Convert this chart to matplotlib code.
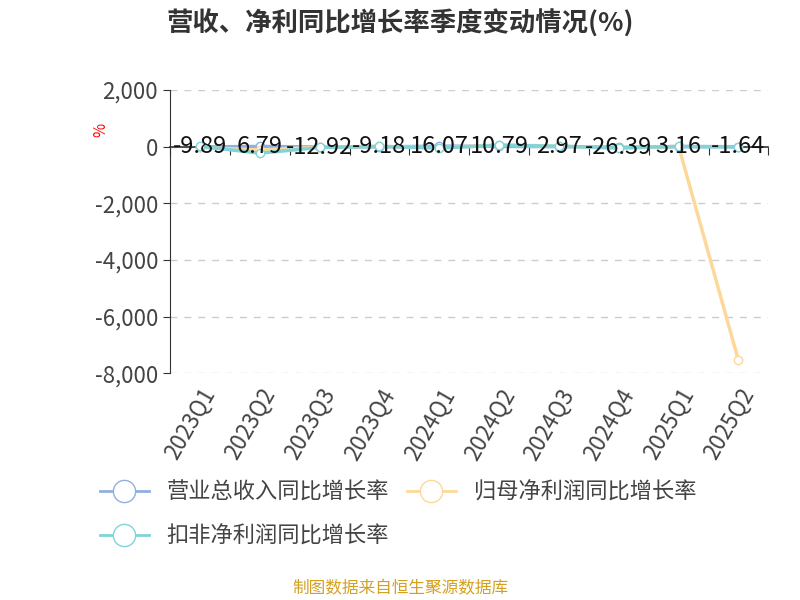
import matplotlib
matplotlib.use("Agg")
import matplotlib.pyplot as plt
from matplotlib.lines import Line2D

plt.rcParams['font.family'] = ['Noto Sans CJK SC', 'DejaVu Sans']

quarters = ["2023Q1","2023Q2","2023Q3","2023Q4","2024Q1","2024Q2","2024Q3","2024Q4","2025Q1","2025Q2"]
revenue = [-9.89, 6.79, -12.92, -9.18, 16.07, 10.79, 2.97, -26.39, 3.16, -1.64]
netprofit = [-30, -120, -20, 10, -40, 60, 20, -60, 10, -7550]
deducted = [10, -230, -30, 10, -50, 50, 15, -40, 5, -10]

fig = plt.figure(figsize=(8, 6), dpi=100)
ax = fig.add_axes([0.2125, 0.378, 0.748, 0.472])
x = list(range(len(quarters)))
c_rev, c_net, c_ded = "#8fb0e0", "#fdd89a", "#80d4d8"
ax.plot(x, revenue, color=c_rev, lw=2.5, marker='o', ms=6, mfc='white', mec=c_rev, zorder=3)
ax.plot(x, netprofit, color=c_net, lw=2.5, marker='o', ms=6, mfc='white', mec=c_net, zorder=3)
ax.plot(x, deducted, color=c_ded, lw=2.5, marker='o', ms=6, mfc='white', mec=c_ded, zorder=4)
for xi, v in zip(x, revenue):
    ax.text(xi, v, f"{v:.2f}", ha='center', va='center', fontsize=17, color='#111111', zorder=5)

ax.set_xlim(-0.5, 9.5)
ax.set_ylim(-8000, 2000)
ax.set_yticks([2000, 0, -2000, -4000, -6000, -8000])
ax.set_yticklabels(["2,000", "0", "-2,000", "-4,000", "-6,000", "-8,000"], fontsize=16, color='#444444')
ax.spines['bottom'].set_position(('data', 0))
ax.spines['bottom'].set_color('#333333')
ax.spines['bottom'].set_linewidth(1.2)
ax.set_xticks([i - 0.5 for i in range(11)])
ax.set_xticklabels([])
ax.tick_params(axis='x', length=6, color='#333333')
ax.tick_params(axis='y', length=5, color='#333333')
ax.grid(axis='y', linestyle=(0, (5, 5)), color='#cccccc', lw=1)
for s in ['top', 'right']:
    ax.spines[s].set_visible(False)
ax.spines['left'].set_color('#333333')
ax.text(-0.13, 0.86, "%", transform=ax.transAxes, color='red', fontsize=11, rotation=90, va='center')

ax2 = ax.twiny()
ax2.set_xlim(ax.get_xlim())
ax2.xaxis.set_ticks_position('bottom')
ax2.set_xticks(x)
ax2.set_xticklabels(quarters, rotation=60, ha='right', rotation_mode='anchor', fontsize=16, color='#444444')
ax2.tick_params(axis='x', length=0, pad=8)
for s in ax2.spines.values():
    s.set_visible(False)

fig.text(0.5, 0.96, "营收、净利同比增长率季度变动情况(%)", ha='center', va='center', fontsize=19, fontweight='bold', color='#333333')

def h(c):
    return Line2D([0], [0], color=c, lw=2, marker='o', ms=16, mfc='white', mec=c)
fig.legend([h(c_rev), h(c_net)], ["营业总收入同比增长率", "归母净利润同比增长率"], loc='center left',
           bbox_to_anchor=(0.1, 0.18), ncol=2, frameon=False, fontsize=16, handlelength=2.2, columnspacing=0.8,
           labelcolor='#444444')
fig.legend([h(c_ded)], ["扣非净利润同比增长率"], loc='center left', bbox_to_anchor=(0.1, 0.107),
           frameon=False, fontsize=16, handlelength=2.2, labelcolor='#444444')
fig.text(0.5, 0.018, "制图数据来自恒生聚源数据库", ha='center', va='center', fontsize=12, color='#d4a020')
fig.savefig("out.png")
